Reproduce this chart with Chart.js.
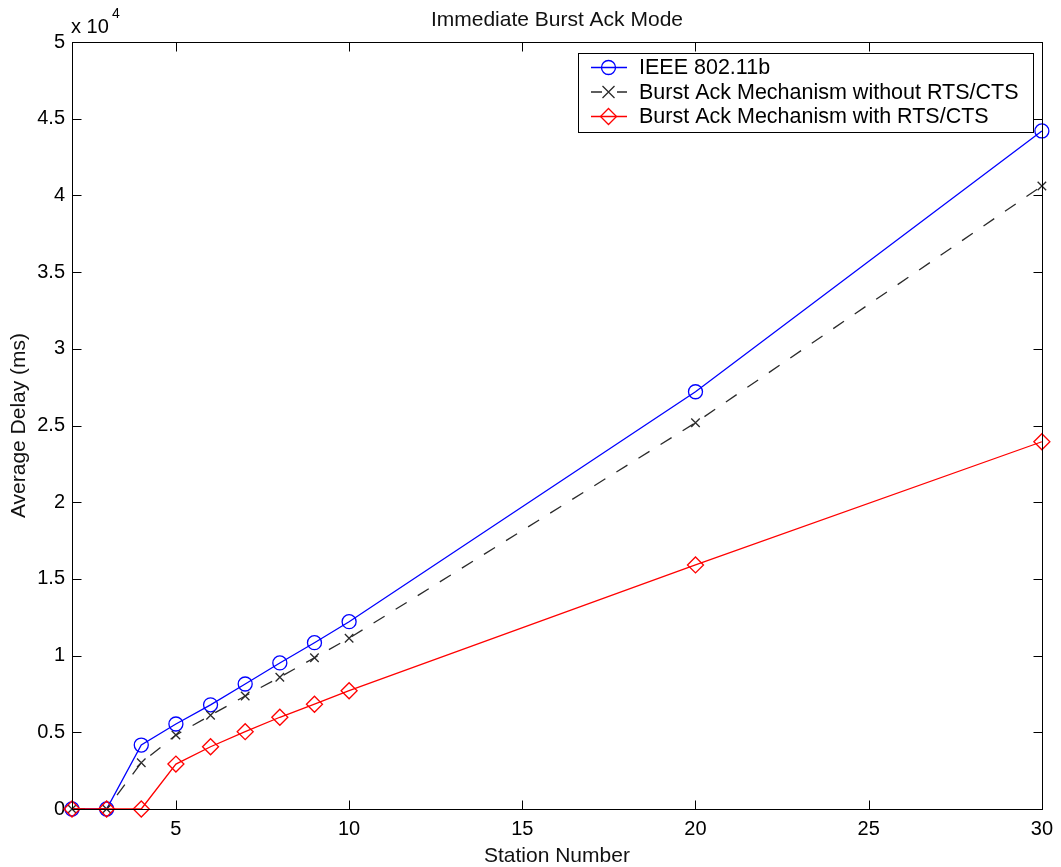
<!DOCTYPE html>
<html>
<head>
<meta charset="utf-8">
<script src="https://cdn.jsdelivr.net/npm/chart.js@4/dist/chart.umd.min.js"></script>
<style>
  html, body { margin: 0; padding: 0; background: #fff; }
  #wrap { width: 1061px; height: 867px; position: relative; }
</style>
</head>
<body>
<div id="wrap"><canvas id="c" width="1061" height="867"></canvas></div>
<script>
// Station counts on the x axis
const stations = [2, 3, 4, 5, 6, 7, 8, 9, 10, 20, 30];
// Average delay (ms) per scheme
const ieee80211b = [0, 0, 4170, 5540, 6790, 8150, 9520, 10840, 12210, 27200, 44200];
const burstNoRts = [0, 0, 3020, 4820, 6110, 7370, 8590, 9860, 11130, 25180, 40610];
const burstWithRts = [0, 0, 0, 2930, 4060, 5040, 5980, 6830, 7710, 15910, 23940];
// Axis ticks
const xTicks = [5, 10, 15, 20, 25, 30];
const yTicks = [0, 5000, 10000, 15000, 20000, 25000, 30000, 35000, 40000, 45000, 50000];
const seriesNames = ['IEEE 802.11b', 'Burst Ack Mechanism without RTS/CTS', 'Burst Ack Mechanism with RTS/CTS'];

const FONT = '"Liberation Sans", Arial, Helvetica, sans-serif';
const LW = 1.3;

function pts(ys) { return stations.map((x, i) => ({ x: x, y: ys[i] })); }

function drawMarker(ctx, style, x, y, r, color) {
  ctx.save();
  ctx.strokeStyle = color;
  ctx.lineWidth = LW;
  ctx.setLineDash([]);
  ctx.beginPath();
  if (style === 'circle') {
    ctx.arc(x, y, r, 0, Math.PI * 2);
  } else if (style === 'crossRot') {
    ctx.moveTo(x - r, y - r); ctx.lineTo(x + r, y + r);
    ctx.moveTo(x - r, y + r); ctx.lineTo(x + r, y - r);
  } else if (style === 'rectRot') {
    ctx.moveTo(x, y - r); ctx.lineTo(x + r, y); ctx.lineTo(x, y + r); ctx.lineTo(x - r, y); ctx.closePath();
  }
  ctx.stroke();
  ctx.restore();
}

// Frame, inward ticks, title, axis labels, exponent and legend
const decorations = {
  id: 'decorations',
  afterDatasetsDraw(chart) {
    const ctx = chart.ctx;
    const a = chart.chartArea;
    const xs = chart.scales.x, ys = chart.scales.y;
    ctx.save();
    ctx.strokeStyle = '#000';
    ctx.lineWidth = 1;
    ctx.setLineDash([]);
    const L = Math.round(a.left) + 0.5, R = Math.round(a.right) + 0.5;
    const T = Math.round(a.top) + 0.5, B = Math.round(a.bottom) + 0.5;
    ctx.strokeRect(L, T, R - L, B - T);
    const tl = 9;
    ctx.beginPath();
    xTicks.forEach(v => {
      const px = Math.round(xs.getPixelForValue(v)) + 0.5;
      ctx.moveTo(px, B); ctx.lineTo(px, B - tl);
      ctx.moveTo(px, T); ctx.lineTo(px, T + tl);
    });
    yTicks.forEach(v => {
      const py = Math.round(ys.getPixelForValue(v)) + 0.5;
      ctx.moveTo(L, py); ctx.lineTo(L + tl, py);
      ctx.moveTo(R, py); ctx.lineTo(R - tl, py);
    });
    ctx.stroke();

    // Texts
    ctx.fillStyle = '#111';
    ctx.font = '21px ' + FONT;
    ctx.textAlign = 'center';
    ctx.textBaseline = 'alphabetic';
    ctx.fillText('Immediate Burst Ack Mode', (a.left + a.right) / 2, 26);
    ctx.fillText('Station Number', (a.left + a.right) / 2, 862);
    ctx.save();
    ctx.translate(25, (a.top + a.bottom) / 2);
    ctx.rotate(-Math.PI / 2);
    ctx.fillText('Average Delay (ms)', 0, 0);
    ctx.restore();
    ctx.fillStyle = '#000';
    ctx.textAlign = 'left';
    ctx.font = '20px ' + FONT;
    ctx.fillText('x 10', 71, 33);
    ctx.font = '14px ' + FONT;
    ctx.fillText('4', 112, 18);

    // Legend
    const bx = 578, by = 53, bw = 455, bh = 79;
    ctx.fillStyle = '#fff';
    ctx.fillRect(bx, by, bw, bh);
    ctx.strokeStyle = '#000';
    ctx.lineWidth = 1;
    ctx.strokeRect(bx + 0.5, by + 0.5, bw, bh);
    const rows = [67.5, 92, 116.5];
    chart.data.datasets.forEach((ds, i) => {
      const y = rows[i];
      ctx.save();
      ctx.strokeStyle = ds.borderColor;
      ctx.lineWidth = LW;
      ctx.setLineDash(ds.borderDash ? [11, 15] : []);
      ctx.beginPath();
      ctx.moveTo(591, y); ctx.lineTo(627, y);
      ctx.stroke();
      ctx.restore();
      drawMarker(ctx, ds.pointStyle, 608.5, y, ds.pointRadius, ds.borderColor);
      ctx.fillStyle = '#000';
      ctx.font = '21.5px ' + FONT;
      ctx.textAlign = 'left';
      ctx.textBaseline = 'middle';
      ctx.fillText(ds.label, 639, y + 1);
    });
    ctx.restore();
  }
};

new Chart(document.getElementById('c'), {
  type: 'line',
  data: {
    datasets: [
      { label: seriesNames[0], data: pts(ieee80211b), borderColor: '#0000ff', backgroundColor: 'rgba(0,0,0,0)',
        borderWidth: LW, pointStyle: 'circle', pointRadius: 7, pointBorderWidth: LW, order: 3, clip: false },
      { label: seriesNames[1], data: pts(burstNoRts), borderColor: '#2a2a2a', backgroundColor: 'rgba(0,0,0,0)',
        borderWidth: LW, borderDash: [13, 13], pointStyle: 'crossRot', pointRadius: 6, pointBorderWidth: LW, order: 2, clip: false },
      { label: seriesNames[2], data: pts(burstWithRts), borderColor: '#ff0000', backgroundColor: 'rgba(0,0,0,0)',
        borderWidth: LW, pointStyle: 'rectRot', pointRadius: 8, pointBorderWidth: LW, order: 1, clip: false }
    ]
  },
  options: {
    responsive: false,
    animation: false,
    devicePixelRatio: 1,
    layout: { padding: { left: 0, top: 42, right: 17, bottom: 0 } },
    plugins: { legend: { display: false }, tooltip: { enabled: false }, title: { display: false } },
    elements: { line: { tension: 0 }, point: { hoverRadius: 7 } },
    scales: {
      x: {
        type: 'linear', min: 2, max: 30,
        afterBuildTicks: s => { s.ticks = xTicks.map(v => ({ value: v })); },
        afterFit: s => { s.height = 58; },
        grid: { display: false, drawTicks: false },
        border: { display: false },
        ticks: { color: '#000', font: { family: FONT, size: 20 }, padding: 8, maxRotation: 0, autoSkip: false }
      },
      y: {
        type: 'linear', min: 0, max: 50000,
        afterBuildTicks: s => { s.ticks = yTicks.map(v => ({ value: v })); },
        afterFit: s => { s.width = 72; },
        grid: { display: false, drawTicks: false },
        border: { display: false },
        ticks: { color: '#000', font: { family: FONT, size: 20 }, padding: 7, autoSkip: false,
          callback: v => String(v / 10000) }
      }
    }
  },
  plugins: [decorations]
});
</script>
</body>
</html>
